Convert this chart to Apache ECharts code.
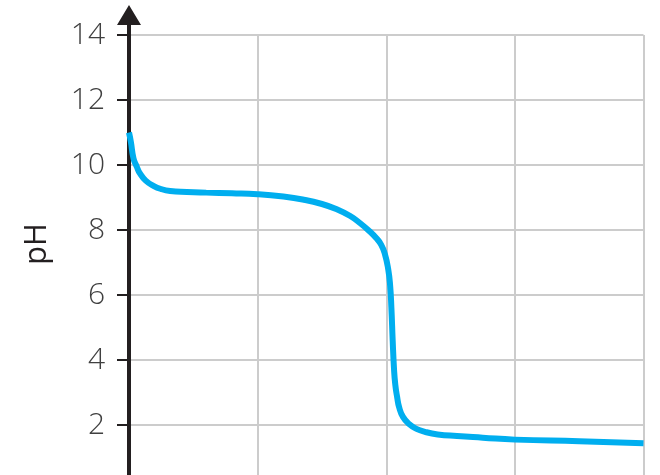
<!DOCTYPE html>
<html><head><meta charset="utf-8">
<script src="https://cdn.jsdelivr.net/npm/echarts@6/dist/echarts.min.js"></script>
<style>html,body{margin:0;padding:0;background:#fff}#c{width:660px;height:475px}</style>
</head><body><div id="c"></div>
<script>
const volume = [0, 0.015, 0.035, 0.06, 0.085, 0.13, 0.19, 0.25, 0.32, 0.45, 0.6, 0.8, 1.0, 1.2, 1.35, 1.5, 1.62, 1.72, 1.8, 1.87, 1.92, 1.96, 1.99, 2.015, 2.03, 2.04, 2.05, 2.06, 2.07, 2.085, 2.1, 2.13, 2.18, 2.235, 2.3, 2.4, 2.55, 2.75, 3.0, 3.5, 4.0];
const pH = [11.0, 10.7, 10.2, 9.95, 9.74, 9.52, 9.36, 9.26, 9.2, 9.17, 9.15, 9.13, 9.1, 9.03, 8.94, 8.8, 8.63, 8.43, 8.2, 7.96, 7.76, 7.55, 7.25, 6.8, 6.3, 5.6, 4.6, 3.75, 3.25, 2.85, 2.55, 2.25, 2.02, 1.88, 1.79, 1.71, 1.66, 1.61, 1.55, 1.5, 1.44];
const yTicks = [0, 2, 4, 6, 8, 10, 12, 14];
const yName = 'pH';

const chart = echarts.init(document.getElementById('c'), null, {renderer: 'canvas'});
chart.setOption({
  animation: false,
  grid: {left: 129, top: 35, width: 514.5, height: 455, containLabel: false, outerBoundsMode: 'none'},
  xAxis: {
    type: 'value', min: 0, max: 4, interval: 1,
    axisLine: {show: false}, axisTick: {show: false}, axisLabel: {show: false},
    splitLine: {show: true, lineStyle: {color: '#cccccc', width: 2}}
  },
  yAxis: {
    type: 'value', min: yTicks[0], max: yTicks[yTicks.length - 1], interval: 2,
    axisLine: {show: true, onZero: false, symbol: ['none', 'path://M12,0 L24,20 L14,20 L14,30 L10,30 L10,20 L0,20 Z'],
      symbolSize: [24, 30], symbolOffset: [0, 15],
      lineStyle: {color: '#231f20', width: 4}},
    axisTick: {show: true, inside: false, length: 12, lineStyle: {color: '#231f20', width: 2}},
    axisLabel: {show: true, margin: 24, color: '#404040', fontSize: 30, fontFamily: 'Open Sans', fontWeight: 300,
      formatter: v => yTicks.includes(v) ? String(v) : ''},
    splitLine: {show: true, lineStyle: {color: '#cccccc', width: 2}}
  },
  graphic: [{
    type: 'text', x: 37, y: 244, rotation: Math.PI / 2,
    style: {text: yName, fontSize: 31, fontFamily: 'Open Sans', fill: '#231f20', textAlign: 'center', textVerticalAlign: 'middle'}
  }],
  series: [{
    type: 'line', data: volume.map((v, i) => [v, pH[i]]),
    showSymbol: false, smooth: 0.5,
    lineStyle: {color: '#00aeef', width: 6}, z: 3
  }]
});
</script></body></html>
